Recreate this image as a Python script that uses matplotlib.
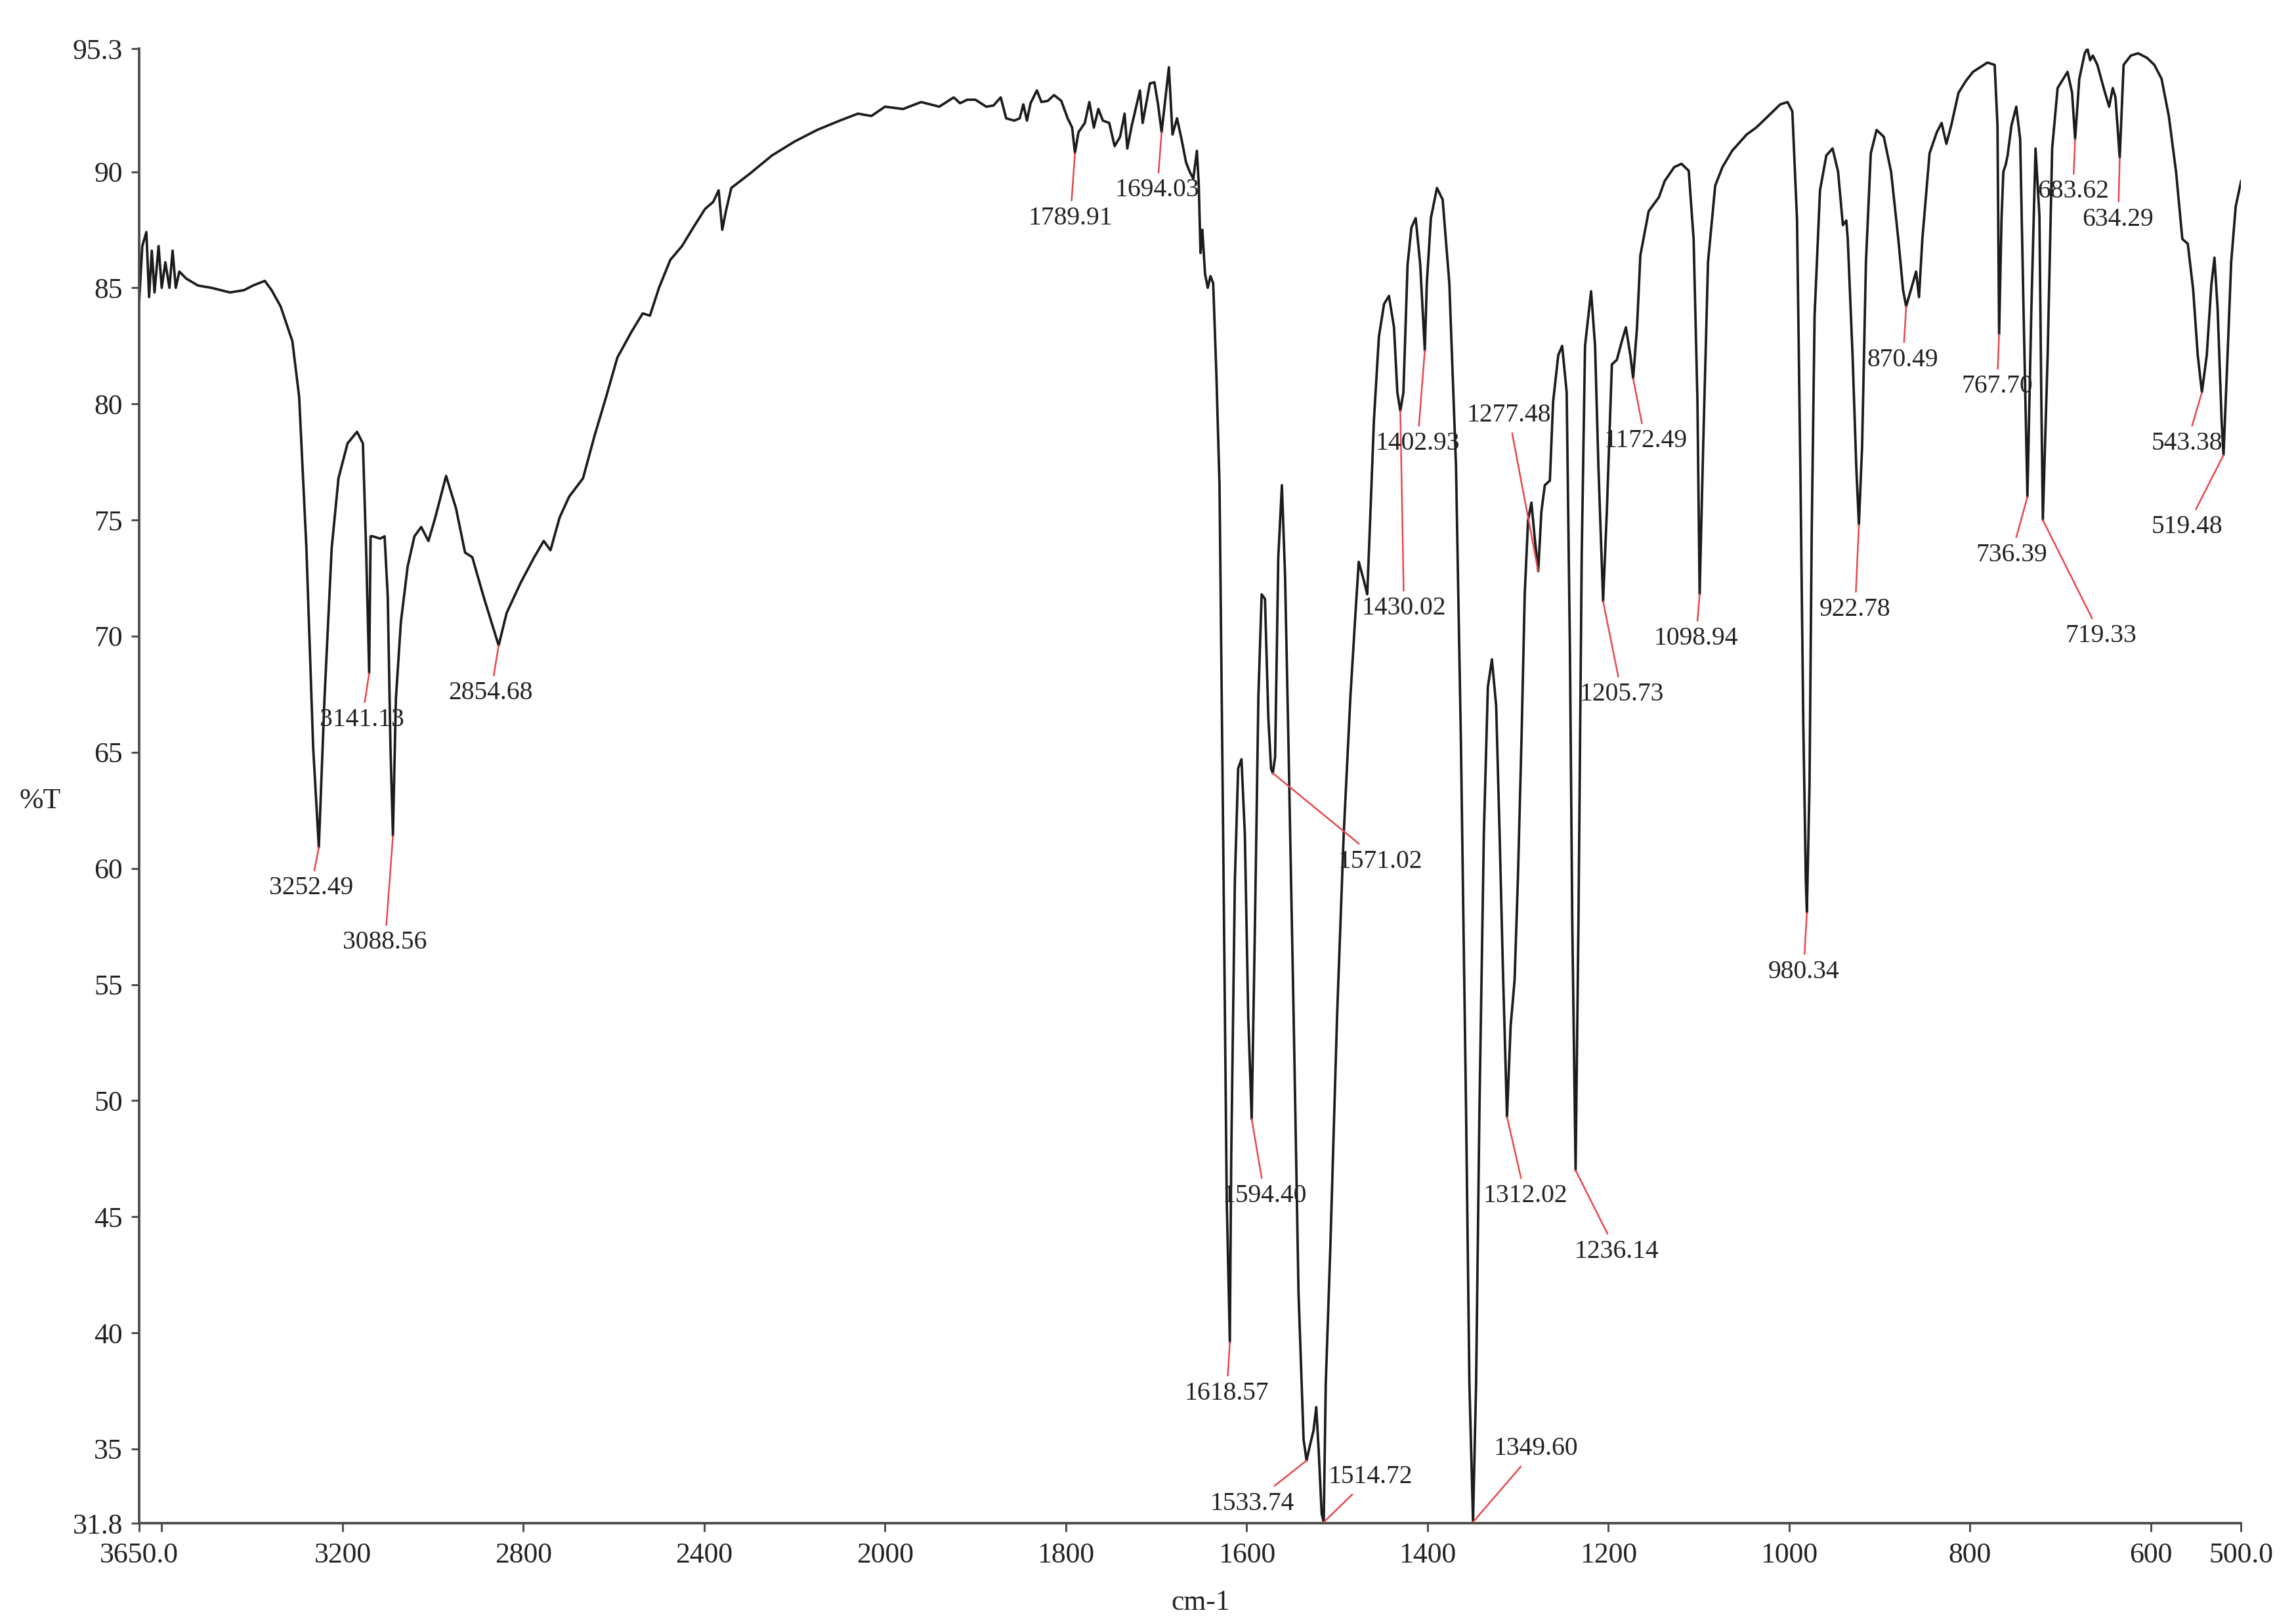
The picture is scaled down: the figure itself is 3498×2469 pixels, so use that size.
import numpy as np
import matplotlib
matplotlib.use("Agg")
import matplotlib.pyplot as plt
from matplotlib.ticker import FixedLocator

plt.rcParams["font.family"] = ["Liberation Serif", "DejaVu Serif"]

# IR spectrum: wavenumber (cm-1) and %T
wavenumber = [
    3650, 3643, 3634, 3628, 3622, 3616, 3607, 3600, 3592, 3583, 3576, 3569, 3561,
    3546, 3520, 3490, 3449, 3418, 3398, 3372, 3357, 3337, 3311, 3296, 3280, 3265,
    3252.49, 3240, 3224, 3209, 3189, 3168, 3155, 3148, 3141.13, 3138, 3133, 3117,
    3107, 3100, 3094, 3088.56, 3082, 3071, 3056, 3041, 3026, 3010, 2995, 2971, 2949,
    2929, 2913, 2888, 2854.68, 2837, 2806, 2776, 2755, 2740, 2720, 2699, 2668, 2643,
    2617, 2592, 2561, 2536, 2520, 2500, 2475, 2449, 2424, 2398, 2380, 2368, 2360,
    2352, 2340, 2300, 2250, 2200, 2150, 2100, 2060, 2030, 2000, 1980, 1960, 1940,
    1924, 1917, 1909, 1900, 1888, 1880, 1872, 1866, 1857, 1851, 1847, 1843, 1839,
    1832, 1827, 1820, 1813, 1805, 1798, 1793, 1789.91, 1786, 1779, 1774, 1769, 1764,
    1759, 1752, 1746, 1740, 1735, 1732, 1727, 1718, 1715, 1707, 1702, 1698, 1694.03,
    1686, 1682, 1677, 1672, 1667, 1663, 1659, 1655, 1653, 1651, 1649, 1646, 1643,
    1640, 1637, 1633.5, 1630, 1626, 1622, 1618.57, 1617, 1613, 1609.4, 1605.7, 1602,
    1598.2, 1594.40, 1590.8, 1587, 1583.4, 1579.7, 1576, 1573, 1571.02, 1568.5, 1565,
    1561, 1557.5, 1553.8, 1548, 1542.6, 1537, 1533.74, 1529.7, 1526, 1523, 1520.4,
    1517, 1514.72, 1512.5, 1507.4, 1500, 1492.6, 1485.2, 1479.6, 1476, 1470.4,
    1466.6, 1463, 1459.2, 1453.7, 1448, 1442.6, 1437, 1433.3, 1430.02, 1426.6, 1422,
    1417.7, 1413, 1408, 1402.93, 1400.7, 1396.2, 1389.5, 1383.2, 1375.8, 1368.4,
    1363, 1357.3, 1353.6, 1349.60, 1346.2, 1342.5, 1337.6, 1333.2, 1328.7, 1324,
    1320.2, 1316.5, 1312.02, 1308, 1303.6, 1300, 1296, 1292.4, 1288.7, 1285, 1281.3,
    1277.48, 1274, 1270.2, 1264.6, 1261, 1255.3, 1251, 1246, 1242.4, 1239.8, 1236.14,
    1233, 1229.4, 1225.7, 1219, 1214.6, 1210.9, 1205.73, 1201.6, 1196, 1190.5, 1185,
    1180.5, 1175.6, 1172.49, 1168.2, 1164.5, 1155.3, 1144, 1137.6, 1127, 1119, 1111,
    1105.6, 1101.4, 1098.94, 1095, 1089.7, 1081.7, 1073.7, 1063, 1047, 1036.4, 1031,
    1020.4, 1009.7, 1001.7, 996.4, 991.2, 987.5, 984.3, 981.5, 980.34, 977.4, 975,
    971.8, 965.8, 958.8, 951.9, 945.8, 940.5, 936.7, 935.1, 929.8, 925.6, 922.78,
    919.2, 915, 909.6, 903.2, 895.2, 887.2, 879.2, 873.9, 870.49, 863.2, 859.5, 856.3,
    852.6, 844.6, 836.6, 831.3, 826, 820.6, 812.6, 804.6, 796.6, 788.6, 780.6, 772.6,
    769.5, 767.70, 765, 763, 760.4, 758.3, 754, 748.7, 744.4, 740.7, 736.39, 732,
    727.4, 723.1, 721, 719.33, 714, 709, 703, 692, 687, 683.62, 679, 673, 670, 667,
    664, 659, 652, 646, 642, 639, 634.29, 630, 622, 614, 604, 596, 588, 580, 572, 565,
    559, 553, 548, 543.38, 538, 533, 529.5, 526, 521.5, 519.48, 515, 511, 506, 500,
]
transmittance = [
    84.4, 86.8, 87.4, 84.6, 86.6, 84.8, 86.8, 85.0, 86.1, 85.0, 86.6, 85.0, 85.7,
    85.4, 85.1, 85.0, 84.8, 84.9, 85.1, 85.3, 84.9, 84.2, 82.7, 80.3, 73.8, 65.2,
    60.9, 67.3, 73.8, 76.8, 78.3, 78.8, 78.3, 73.8, 68.4, 74.3, 74.3, 74.2,
    74.3, 71.7, 65.2, 61.4, 67.3, 70.6, 73.0, 74.3, 74.7, 74.1, 75.1, 76.9, 75.5,
    73.6, 73.4, 71.7, 69.6, 71.0, 72.3, 73.4, 74.1, 73.7, 75.1, 76.0, 76.8, 78.6,
    80.3, 82.0, 83.1, 83.9, 83.8, 85.0, 86.2, 86.8, 87.6, 88.4, 88.7, 89.2, 87.5,
    88.3, 89.3, 89.9, 90.7, 91.3, 91.8, 92.2, 92.5, 92.4, 92.8, 92.7, 93.0, 92.8,
    93.2, 92.95, 93.1, 93.1, 92.8, 92.85, 93.2, 92.3, 92.2, 92.3, 92.9, 92.2, 92.95,
    93.5, 93.0, 93.05, 93.3, 93.05, 92.3, 91.9, 90.8, 91.7, 92.1, 93.0, 91.9, 92.7,
    92.2, 92.1, 91.1, 91.5, 92.5, 91.0, 92.0, 93.5, 92.1, 93.8, 93.85, 92.9, 91.7,
    94.5, 91.6, 92.3, 91.4, 90.4, 90.0, 89.7, 90.9, 89.5, 86.5, 87.5, 85.6, 85.0,
    85.5, 85.2, 81.3, 76.5, 61.5, 45.7, 39.6, 47.7, 59.5, 64.3, 64.7, 61.5,
    53.6, 49.2, 57.6, 67.4, 71.8, 71.6, 66.5, 64.3, 64.1, 64.8, 73.4,
    76.5, 72.6, 65.5, 53.6, 41.7, 35.4, 34.5, 35.2, 35.8, 36.8, 35.0,
    32.2, 31.85, 37.8, 43.7, 53.6, 61.5, 67.4, 71.0, 73.2, 72.4,
    71.8, 75.4, 79.3, 82.9, 84.3, 84.65, 83.3, 80.5, 79.7, 80.5, 86.0,
    87.6, 88.0, 86.0, 82.3, 85.2, 88.0, 89.3, 88.8, 85.2, 77.3,
    65.5, 49.6, 37.8, 31.85, 37.8, 49.6, 61.5, 67.8, 69.0, 67.0,
    61.5, 55.6, 49.3, 53.2, 55.2, 59.5, 65.5, 71.8, 75.0, 75.75, 74.2,
    72.8, 75.35, 76.5, 76.7, 80.1, 82.1, 82.5, 80.5, 69.4, 57.6, 47.0,
    57.6, 73.4, 82.5, 84.85, 82.5, 77.3, 71.5, 75.35, 81.7, 81.9, 82.7,
    83.3, 82.1, 81.1, 83.3, 86.4, 88.3, 88.9, 89.6, 90.2, 90.34, 90.04,
    87.1, 80.2, 71.8, 78.2, 86.1, 89.4, 90.2, 90.9, 91.6, 91.9, 92.1,
    92.5, 92.9, 93.0, 92.6, 87.9, 77.1, 66.3, 59.5, 58.1, 63.6, 74.4,
    83.8, 89.2, 90.7, 91.0, 90.0, 87.7, 87.9, 87.1, 82.1, 77.2, 74.8,
    78.2, 86.1, 90.8, 91.8, 91.5, 90.0, 87.1, 84.9, 84.2, 85.2, 85.7, 84.6,
    87.1, 90.8, 91.7, 92.1, 91.2, 92.0, 93.4, 93.9, 94.3, 94.5, 94.7, 94.6,
    92.0, 83.0, 88.0, 90.0, 90.3, 90.7, 92.0, 92.8, 91.4, 84.1, 76.0, 84.1,
    91.0, 88.1, 80.2, 75.0, 82.1, 91.0, 93.6, 94.3, 93.4, 91.4, 94.0, 95.1, 95.3, 94.8,
    95.0, 94.6, 93.6, 92.8, 93.6, 93.2, 90.6, 94.6, 95.0, 95.1, 94.9, 94.6, 94.0, 92.4, 90.0, 87.1,
    86.9, 84.9, 82.1, 80.5, 82.1, 85.1, 86.3, 84.1, 79.2, 77.8, 82.1, 86.1, 88.5, 89.6,
]

peak_labels = [
    "3252.49", "3141.13", "3088.56", "2854.68", "1789.91", "1694.03", "1618.57",
    "1594.40", "1571.02", "1533.74", "1514.72", "1430.02", "1402.93", "1349.60",
    "1312.02", "1277.48", "1236.14", "1205.73", "1172.49", "1098.94", "980.34",
    "922.78", "870.49", "767.70", "736.39", "719.33", "683.62", "634.29",
    "543.38", "519.48",
]
# where each peak label sits (text centre, data coords)
label_x = [
    3270, 3157, 3106, 2872, 1795, 1699, 1622, 1580, 1452, 1594, 1463, 1426, 1411,
    1280, 1292, 1310, 1191, 1185, 1159, 1103, 984, 927, 874, 770, 754, 655, 686,
    636, 560, 560,
]
label_y = [
    59.15, 66.4, 56.8, 67.55, 88.0, 89.2, 37.4, 45.9, 60.3, 32.65, 33.8, 71.2, 78.3,
    35.0, 45.9, 79.5, 43.5, 67.5, 78.4, 69.9, 55.55, 71.15, 81.9, 80.75, 73.5,
    70.0, 89.15, 87.95, 78.3, 74.7,
]

y_ticks = [31.8, 35, 40, 45, 50, 55, 60, 65, 70, 75, 80, 85, 90, 95.3]
y_tick_labels = ["31.8", "35", "40", "45", "50", "55", "60", "65", "70", "75",
                 "80", "85", "90", "95.3"]
x_ticks = [3650, 3600, 3200, 2800, 2400, 2000, 1800, 1600, 1400, 1200, 1000, 800, 600, 500]
x_tick_labels = ["3650.0", "", "3200", "2800", "2400", "2000", "1800", "1600",
                 "1400", "1200", "1000", "800", "600", "500.0"]


# the region above 2000 cm-1 is drawn at half scale
def fwd(x):
    x = np.asarray(x, dtype=float)
    return np.where(x >= 2000, 2000 + (x - 2000) * 0.5, x)


def inv(u):
    u = np.asarray(u, dtype=float)
    return np.where(u >= 2000, 2000 + (u - 2000) * 2.0, u)


fig = plt.figure(figsize=(3498 / 300, 2469 / 300), dpi=300)
ax = fig.add_axes([0.0606, 0.0603, 0.9155, 0.9097])

ax.set_xscale("function", functions=(fwd, inv))
ax.plot(wavenumber, transmittance, color="#1c1c1c", lw=0.9)

ax.set_xlim(3650, 500)
ax.set_ylim(31.8, 95.3)

wn_arr = np.array(wavenumber)[::-1]
t_arr = np.array(transmittance)[::-1]
for lab, lx, ly in zip(peak_labels, label_x, label_y):
    px = float(lab)
    py = np.interp(px, wn_arr, t_arr)
    ax.annotate(lab, xy=(px, py), xytext=(lx, ly), ha="center", va="center",
                fontsize=9.5, color="#222222",
                arrowprops=dict(arrowstyle="-", color="#e8464a", lw=0.6,
                                shrinkA=0, shrinkB=0))

ax.xaxis.set_major_locator(FixedLocator(x_ticks))
ax.set_xticklabels(x_tick_labels)
ax.xaxis.set_minor_locator(FixedLocator([]))
ax.yaxis.set_major_locator(FixedLocator(y_ticks))
ax.set_yticklabels(y_tick_labels)

for side in ["top", "right"]:
    ax.spines[side].set_visible(False)
for side in ["left", "bottom"]:
    ax.spines[side].set_color("#4a4a4a")
    ax.spines[side].set_linewidth(0.9)

ax.tick_params(axis="both", direction="out", length=3, width=0.7,
               color="#4a4a4a", labelsize=10.5, labelcolor="#222222")
ax.tick_params(axis="x", pad=4)
ax.tick_params(axis="y", pad=3)

ax.set_xlabel("cm-1", fontsize=10.5, color="#222222")
ax.xaxis.set_label_coords(0.505, -0.045)
ax.set_ylabel("%T", fontsize=10.5, color="#222222", rotation=0, ha="center", va="center")
ax.yaxis.set_label_coords(-0.047, 0.49)

fig.savefig("out.png", dpi=300)
